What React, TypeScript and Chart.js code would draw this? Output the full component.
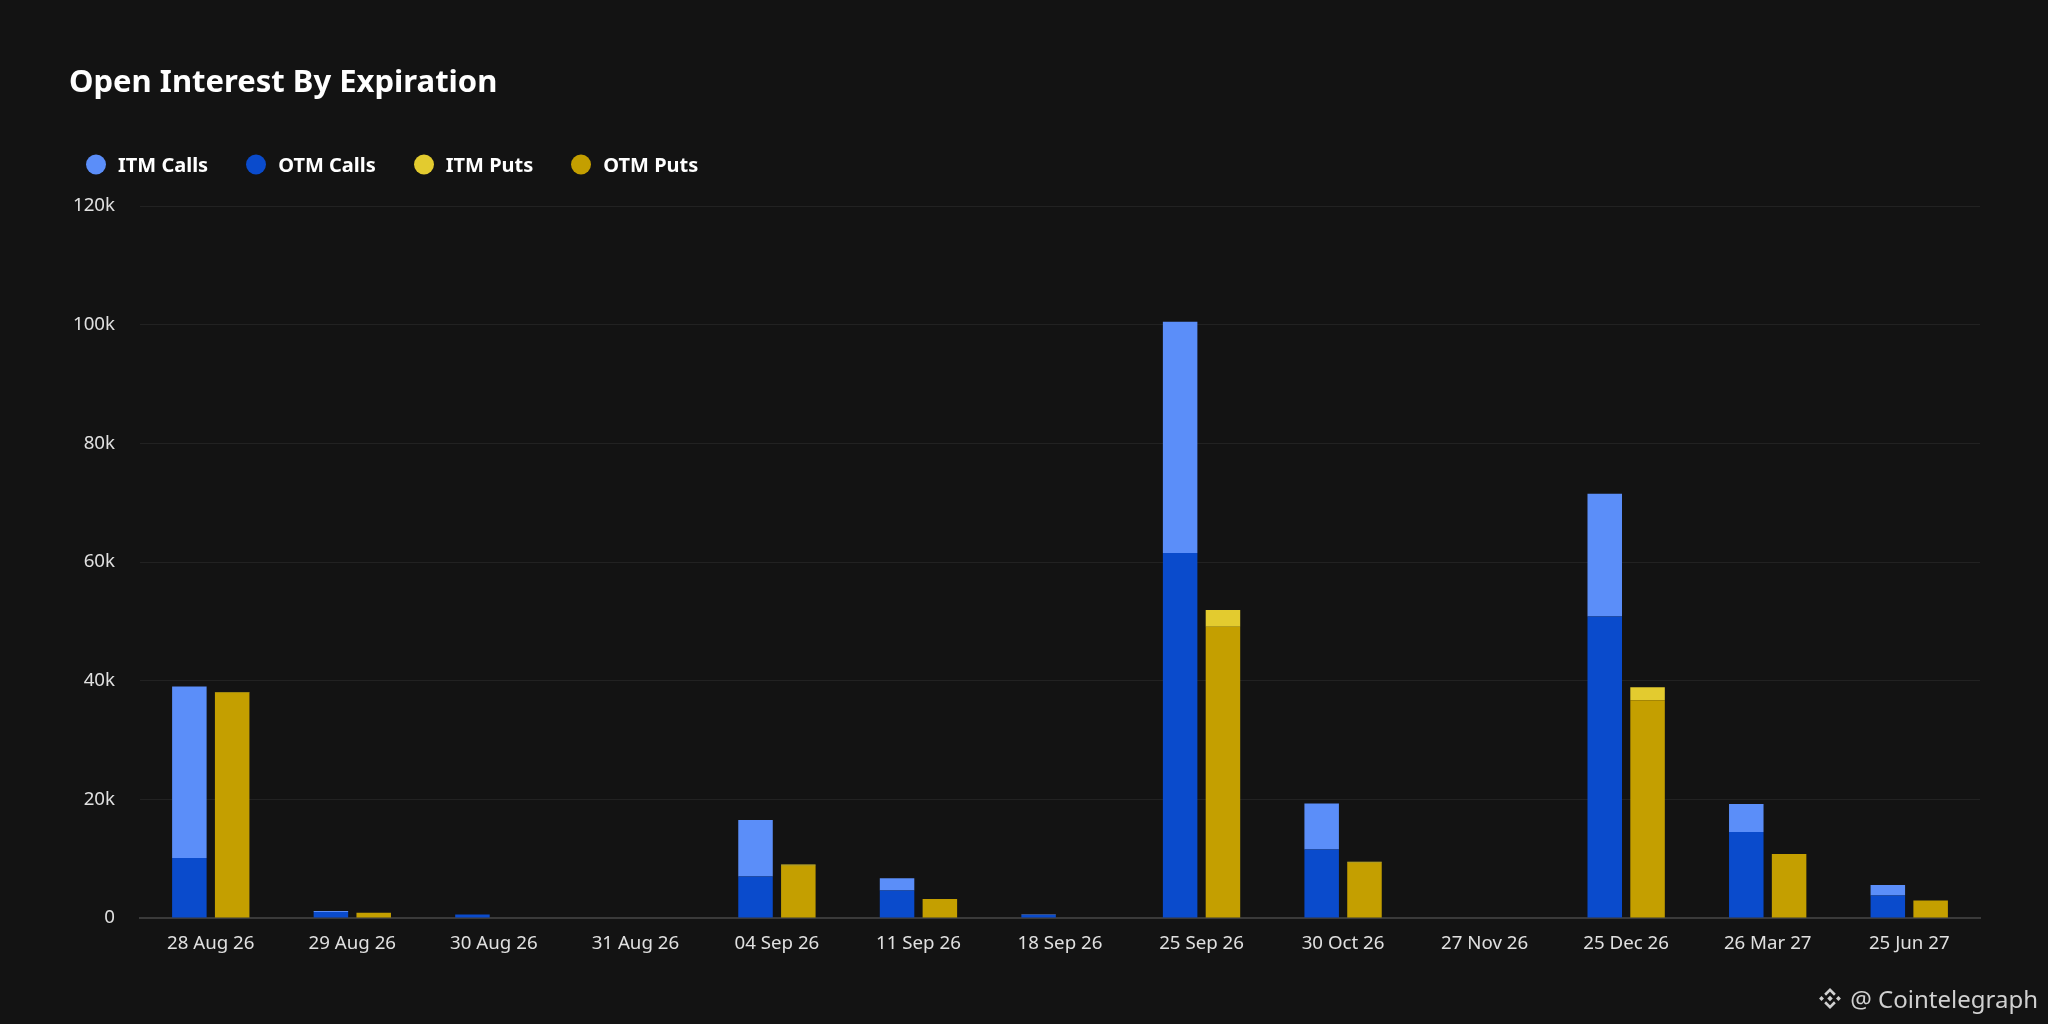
import React, { useEffect, useRef } from "react";
import { Chart, registerables } from "chart.js";

Chart.register(...registerables);

const categories = [
  "28 Aug 26", "29 Aug 26", "30 Aug 26", "31 Aug 26", "04 Sep 26", "11 Sep 26",
  "18 Sep 26", "25 Sep 26", "30 Oct 26", "27 Nov 26", "25 Dec 26", "26 Mar 27", "25 Jun 27",
];
const otmCalls = [10100, 1000, 600, 0, 7000, 4650, 500, 61500, 11550, 0, 50800, 14500, 3800];
const itmCalls = [28900, 200, 0, 0, 9500, 2050, 100, 39000, 7750, 0, 20700, 4700, 1750];
const otmPuts = [38000, 900, 0, 0, 8800, 3200, 0, 49100, 9300, 0, 36700, 10800, 2950];
const itmPuts = [100, 0, 0, 0, 200, 0, 0, 2800, 200, 0, 2200, 0, 0];
const yTicks = [0, 20000, 40000, 60000, 80000, 100000, 120000];

const COLORS = {
  itmCalls: "#5b8ef9",
  otmCalls: "#0a4bcc",
  itmPuts: "#e3cb2f",
  otmPuts: "#c49f00",
};

const legendItems = [
  { label: "ITM Calls", color: COLORS.itmCalls },
  { label: "OTM Calls", color: COLORS.otmCalls },
  { label: "ITM Puts", color: COLORS.itmPuts },
  { label: "OTM Puts", color: COLORS.otmPuts },
];

const FONT = "'Noto Sans', 'Open Sans', sans-serif";

export default function App() {
  const ref = useRef<HTMLCanvasElement | null>(null);

  useEffect(() => {
    if (!ref.current) return;
    const chart = new Chart(ref.current, {
      type: "bar",
      data: {
        labels: categories,
        datasets: [
          { label: "OTM Calls", data: otmCalls, backgroundColor: COLORS.otmCalls, stack: "calls" },
          { label: "ITM Calls", data: itmCalls, backgroundColor: COLORS.itmCalls, stack: "calls" },
          { label: "OTM Puts", data: otmPuts, backgroundColor: COLORS.otmPuts, stack: "puts" },
          { label: "ITM Puts", data: itmPuts, backgroundColor: COLORS.itmPuts, stack: "puts" },
        ],
      },
      options: {
        animation: false,
        responsive: true,
        maintainAspectRatio: false,
        datasets: { bar: { categoryPercentage: 0.605, barPercentage: 0.806, borderWidth: 0 } },
        layout: { padding: { top: 206, right: 68, bottom: 70, left: 0 } },
        plugins: {
          legend: { display: false },
          title: { display: false },
          tooltip: { enabled: false },
        },
        scales: {
          x: {
            stacked: true,
            grid: { display: false, drawTicks: false },
            border: { display: true, color: "#3a3a3a", width: 2 },
            ticks: { color: "#e0e0e0", font: { family: FONT, size: 18.7 }, padding: 14, maxRotation: 0, autoSkip: false },
            afterFit: (s: any) => { s.height = 36; },
          },
          y: {
            stacked: true,
            min: 0,
            max: 120000,
            afterBuildTicks: (s: any) => { s.ticks = yTicks.map((v) => ({ value: v })); },
            grid: { color: "#222222", lineWidth: 1, drawTicks: false },
            border: { display: false },
            ticks: {
              color: "#e0e0e0",
              font: { family: FONT, size: 18.7 },
              padding: 25,
              callback: (v: any) => (v === 0 ? "0" : `${Number(v) / 1000}k`),
            },
            afterFit: (s: any) => { s.width = 140; },
          },
        },
      },
    });
    return () => chart.destroy();
  }, []);

  return (
    <div style={{ position: "relative", width: 2048, height: 1024, background: "#131313", overflow: "hidden", fontFamily: FONT }}>
      <style>{"body{margin:0;background:#131313}"}</style>
      <canvas ref={ref} style={{ position: "absolute", left: 0, top: 0, width: 2048, height: 1024 }} />
      <div style={{ position: "absolute", left: 69, top: 81, transform: "translateY(-50%)", color: "#ffffff", fontSize: 31, fontWeight: 700, lineHeight: 1.2, whiteSpace: "nowrap" }}>
        Open Interest By Expiration
      </div>
      <div style={{ position: "absolute", left: 86, top: 164, transform: "translateY(-50%)", display: "flex", alignItems: "center", gap: 38 }}>
        {legendItems.map((it) => (
          <div key={it.label} style={{ display: "flex", alignItems: "center", gap: 12 }}>
            <span style={{ width: 20, height: 20, borderRadius: "50%", background: it.color, display: "inline-block" }} />
            <span style={{ color: "#ffffff", fontSize: 20, fontWeight: 700, whiteSpace: "nowrap" }}>{it.label}</span>
          </div>
        ))}
      </div>
      <div style={{ position: "absolute", right: 10, top: 998, transform: "translateY(-50%)", display: "flex", alignItems: "center", gap: 7, color: "#d0d0d0", fontSize: 24, whiteSpace: "nowrap" }}>
        <svg width="26" height="26" viewBox="0 0 24 24">
          <g fill="#d0d0d0" stroke="none">
            <rect x="10.2" y="10.2" width="3.6" height="3.6" transform="rotate(45 12 12)" />
            <rect x="2.6" y="10.4" width="3.2" height="3.2" transform="rotate(45 4.2 12)" />
            <rect x="18.2" y="10.4" width="3.2" height="3.2" transform="rotate(45 19.8 12)" />
          </g>
          <polyline points="7.5,8.5 12,4 16.5,8.5" fill="none" stroke="#d0d0d0" strokeWidth="2.4" />
          <polyline points="7.5,15.5 12,20 16.5,15.5" fill="none" stroke="#d0d0d0" strokeWidth="2.4" />
        </svg>
        <span>@ Cointelegraph</span>
      </div>
    </div>
  );
}
